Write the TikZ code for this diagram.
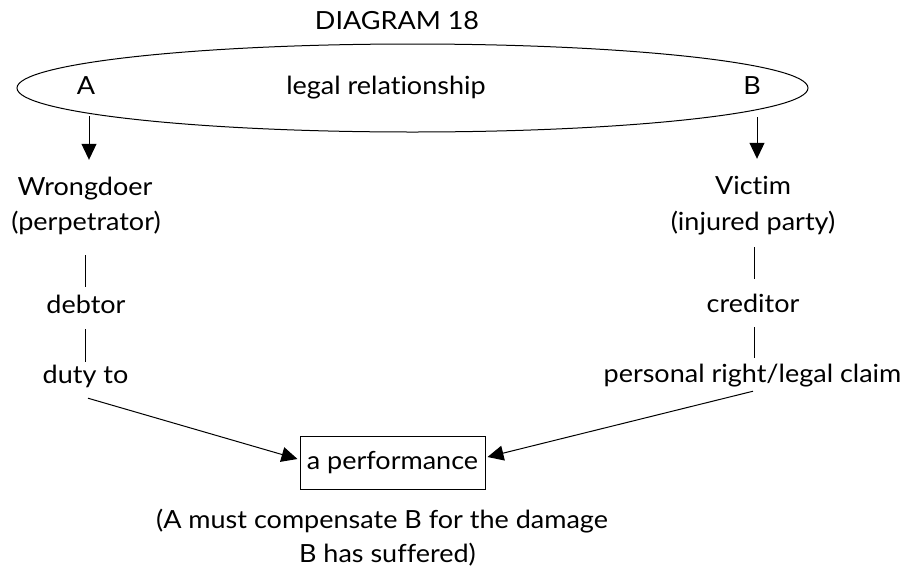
\documentclass[tikz,border=0pt]{standalone}
\usepackage{fontspec}
\setmainfont{Lato}[Ligatures={NoCommon}, FakeStretch=1.08]
\usetikzlibrary{arrows.meta,shapes.geometric,calc}
\begin{document}
\begin{tikzpicture}[x=1pt,y=-1pt,
  txt/.style={inner sep=0pt, anchor=base, font=\fontsize{25}{29}\selectfont, text height=17pt, text depth=6pt},
  conn/.style={line width=1pt},
  arr/.style={line width=1pt,-{Triangle[length=16pt,width=15pt]}},
]
\useasboundingbox (0,0) rectangle (901,571);
\node[draw, ellipse, line width=1pt, minimum width=791pt, minimum height=88pt, inner sep=0pt] (rel) at (412.5,88) {};
\node[txt] (title) at (397,29) {DIAGRAM 18};
\node[txt] (A) at (86,94) {A};
\node[txt] (lr) at (386,94) {legal relationship};
\node[txt] (B) at (752,94) {B};
\node[txt] (wrong) at (85,195) {Wrongdoer};
\node[txt] (perp) at (86,230) {(perpetrator)};
\node[txt] (victim) at (753,194) {Victim};
\node[txt] (injured) at (753,230) {(injured party)};
\node[txt] (debtor) at (86,313) {debtor};
\node[txt] (creditor) at (753,312) {creditor};
\node[txt] (duty) at (85.5,383) {duty to};
\node[txt] (personal) at (752.5,382) {personal right/legal claim};
\node[draw, line width=1pt, minimum width=185pt, minimum height=53pt, inner sep=0pt, font=\fontsize{25}{29}\selectfont] (perf) at (392.5,462.5) {a performance};
\node[txt] (note1) at (382,528) {(A must compensate B for the damage};
\node[txt] (note2) at (387.5,562) {B has suffered)};
\draw[arr] ($(A.south)+(3,16)$) -- ($(A.south |- wrong.north)+(3,-18)$);
\draw[arr] ($(B.south)+(5,17)$) -- ($(B.south |- victim.north)+(5,-18)$);
\draw[conn] ($(perp.south)+(-1,19)$) -- ($(debtor.north)+(-1,-9)$);
\draw[conn] ($(debtor.south)+(-1,10)$) -- ($(duty.north)+(-0.5,-4)$);
\draw[conn] ($(injured.south)+(1,11)$) -- ($(creditor.north)+(1,-16)$);
\draw[conn] ($(creditor.south)+(1,9)$) -- ($(personal.north)+(1.5,-7)$);
\draw[arr] ($(duty.south)+(2.5,9)$) -- ($(perf.west)+(-2,-3.5)$);
\draw[arr] ($(personal.south)+(0.5,3)$) -- ($(perf.east)+(2,-5.5)$);
\end{tikzpicture}
\end{document}
